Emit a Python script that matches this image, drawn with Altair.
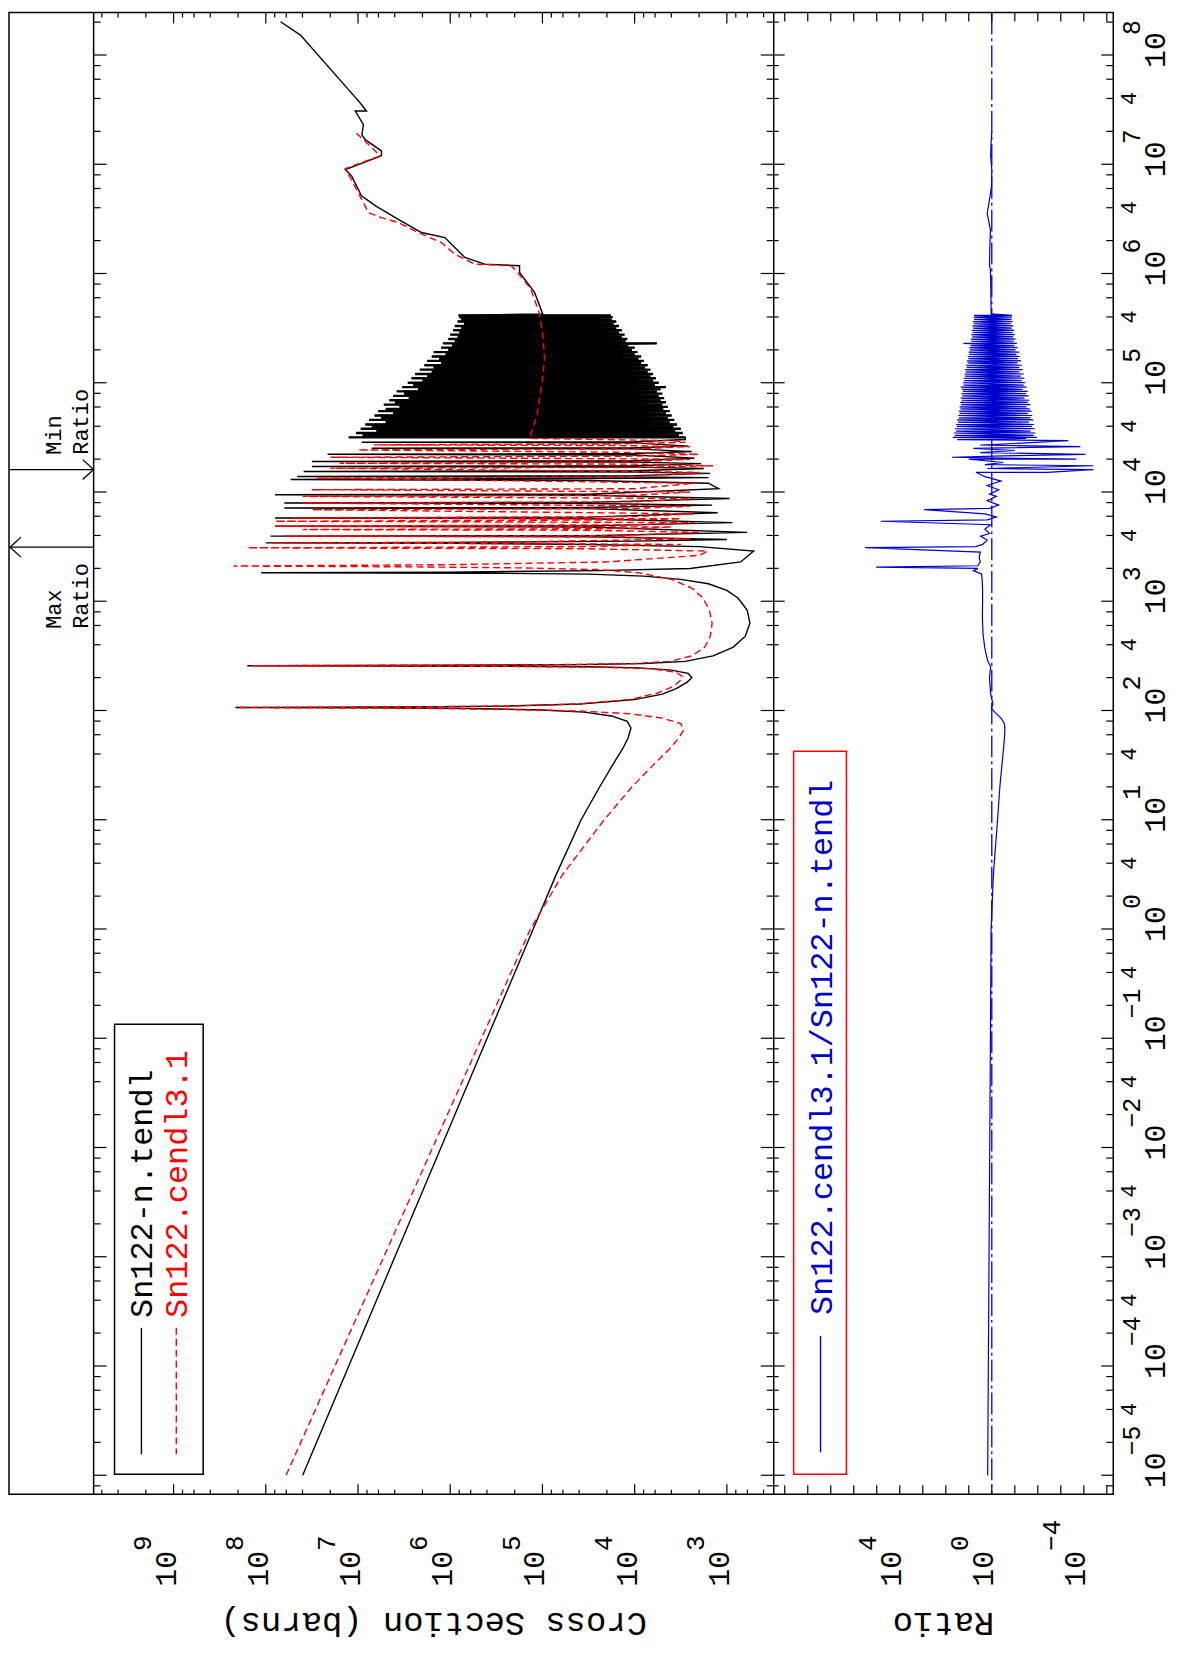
import altair as alt
import pandas as pd

# ---------------- data (log10 energy [eV], log10 value) ----------------
# Sn122-n.tendl cross section, below the dense resonance forest
TENDL_LOW = [
    (-5.00, 7.60), (-4.00, 7.10), (-3.00, 6.60), (-2.00, 6.10), (-1.00, 5.60), (0.00, 5.10),
    (0.50, 4.85), (1.00, 4.58), (1.30, 4.38), (1.50, 4.24), (1.65, 4.13), (1.75, 4.07),
    (1.84, 4.04), (1.90, 4.08), (1.95, 4.25), (1.985, 4.55), (2.005, 5.00), (2.018, 5.80),
    (2.024, 6.80), (2.027, 8.33), (2.032, 6.50), (2.040, 5.40), (2.06, 4.60), (2.10, 4.00),
    (2.15, 3.70), (2.20, 3.55), (2.26, 3.43), (2.30, 3.38), (2.34, 3.42), (2.37, 3.60),
    (2.39, 3.95), (2.400, 4.50), (2.405, 5.50), (2.410, 8.20), (2.415, 6.00), (2.420, 4.60),
    (2.430, 3.90), (2.45, 3.45), (2.50, 3.15), (2.58, 2.93), (2.68, 2.80), (2.80, 2.75),
    (2.92, 2.78), (3.03, 2.88), (3.10, 3.00), (3.16, 3.20), (3.20, 3.50), (3.23, 3.90),
    (3.248, 4.50), (3.256, 5.50), (3.261, 8.05), (3.267, 6.00), (3.28, 4.40), (3.30, 3.40),
    (3.36, 2.85), (3.459, 2.71), (3.50, 3.30), (3.52, 4.50), (3.530, 6.00), (3.534, 8.00),
    (3.538, 6.00), (3.55, 4.00), (3.565, 3.00), (3.59, 4.50), (3.596, 7.95), (3.600, 4.50),
    (3.63, 2.78), (3.68, 4.50), (3.687, 7.90), (3.690, 4.50), (3.72, 2.94), (3.755, 4.50),
    (3.762, 7.90), (3.770, 4.50), (3.81, 3.10), (3.848, 4.50), (3.853, 7.80), (3.858, 4.50),
    (3.88, 3.16), (3.895, 4.50), (3.899, 7.80), (3.905, 4.50), (3.94, 2.97), (3.970, 4.50),
    (3.975, 7.90), (3.980, 4.50), (4.03, 3.09), (4.08, 3.20), (4.105, 4.50), (4.115, 7.73),
    (4.125, 4.00), (4.132, 3.20), (4.138, 4.00), (4.142, 7.66), (4.150, 4.00), (4.17, 3.18),
    (4.183, 4.00), (4.188, 7.59), (4.195, 4.00), (4.215, 3.25), (4.228, 4.00), (4.233, 7.50),
    (4.240, 4.00), (4.26, 3.28), (4.273, 4.00), (4.279, 7.50), (4.286, 4.00), (4.31, 3.35),
    (4.338, 4.00), (4.345, 7.33), (4.352, 4.00), (4.37, 3.38), (4.395, 4.00), (4.400, 6.85),
    (4.405, 4.00), (4.42, 3.42), (4.450, 4.00), (4.455, 6.96), (4.460, 4.00), (4.48, 3.45),
]
# dense forest (tendl): energies, peak and valley values
FOREST_LOGE = [4.500, 4.519, 4.540, 4.558, 4.579, 4.600, 4.618, 4.639, 4.660, 4.679, 4.700, 4.719,
               4.740, 4.760, 4.779, 4.800, 4.821, 4.840, 4.859, 4.880, 4.900, 4.921, 4.940, 4.960,
               4.979, 5.000, 5.020, 5.041, 5.060, 5.080, 5.099, 5.120, 5.140, 5.160, 5.181, 5.200,
               5.220, 5.240, 5.259, 5.280, 5.300, 5.321, 5.340, 5.360, 5.380, 5.400, 5.420, 5.440,
               5.460, 5.480, 5.500, 5.520, 5.540, 5.560, 5.580, 5.600, 5.616]
FOREST_PEAK = [7.10, 6.95, 7.02, 6.80, 6.97, 6.85, 6.92, 6.70, 6.88, 6.75, 6.82, 6.62,
               6.78, 6.70, 6.55, 6.72, 6.60, 6.66, 6.45, 6.62, 6.50, 6.58, 6.35, 6.52,
               6.40, 6.46, 6.30, 6.42, 6.25, 6.38, 6.20, 6.33, 6.18, 6.28, 6.10, 6.25,
               6.12, 6.20, 6.05, 6.18, 6.02, 6.10, 5.98, 6.08, 5.95, 6.02, 5.92, 6.00,
               5.90, 5.97, 5.88, 5.95, 5.85, 5.92, 5.88, 5.90, 5.91]
FOREST_VALLEY = [3.45, 3.52, 3.48, 3.56, 3.50, 3.58, 3.54, 3.62, 3.57, 3.64, 3.60, 3.66,
                 3.62, 3.69, 3.64, 3.70, 3.66, 3.72, 3.68, 3.74, 3.70, 3.76, 3.72, 3.66,
                 3.78, 3.74, 3.80, 3.77, 3.83, 3.80, 3.86, 3.83, 3.89, 3.86, 3.93, 3.90,
                 3.96, 3.93, 4.00, 3.97, 4.03, 4.00, 4.07, 3.76, 4.10, 4.08, 4.14, 4.11,
                 4.17, 4.14, 4.20, 4.17, 4.23, 4.20, 4.25, 4.24, 4.26]
TENDL_HIGH = [
    (5.630, 4.997), (5.828, 5.086), (6.010, 5.248), (6.071, 5.248), (6.086, 5.626), (6.147, 5.842),
    (6.329, 6.058), (6.375, 6.311), (6.496, 6.563), (6.621, 6.814), (6.712, 6.962), (6.894, 7.070),
    (6.952, 7.138), (7.077, 6.746), (7.122, 6.746), (7.225, 6.922), (7.271, 6.958), (7.362, 6.941),
    (7.487, 7.030), (7.487, 6.908), (7.560, 6.976), (7.651, 7.070), (8.182, 7.624), (8.304, 7.840),
]
# Sn122.cendl3.1 cross section
CENDL = [
    (-5.00, 7.78), (-4.00, 7.25), (-3.00, 6.72), (-2.00, 6.19), (-1.00, 5.66), (0.00, 5.13),
    (0.50, 4.78), (1.00, 4.33), (1.30, 4.03), (1.50, 3.80), (1.65, 3.62), (1.75, 3.52),
    (1.82, 3.47), (1.88, 3.50), (1.93, 3.70), (1.97, 4.05), (1.995, 4.60), (2.010, 5.40),
    (2.020, 6.30), (2.027, 8.30), (2.033, 6.40), (2.042, 5.30), (2.06, 4.60), (2.10, 4.05),
    (2.16, 3.75), (2.22, 3.58), (2.28, 3.50), (2.31, 3.48), (2.35, 3.55), (2.38, 3.80),
    (2.395, 4.30), (2.403, 5.20), (2.407, 6.30), (2.410, 8.15), (2.415, 6.20), (2.420, 4.80),
    (2.430, 4.00), (2.45, 3.62), (2.50, 3.38), (2.58, 3.24), (2.68, 3.18), (2.80, 3.16),
    (2.92, 3.19), (3.03, 3.26), (3.12, 3.38), (3.20, 3.60), (3.26, 3.95), (3.29, 4.40),
    (3.305, 5.20), (3.315, 6.40), (3.322, 8.35), (3.335, 6.00), (3.36, 4.30), (3.42, 3.30),
    (3.459, 3.21), (3.480, 4.50), (3.489, 8.20), (3.500, 4.50), (3.52, 3.50), (3.530, 6.00),
    (3.534, 7.95), (3.540, 5.50), (3.57, 3.40), (3.590, 4.20), (3.596, 7.80), (3.600, 4.20),
    (3.63, 3.30), (3.650, 4.50), (3.656, 7.60), (3.665, 4.00), (3.680, 3.60), (3.687, 7.90),
    (3.700, 4.00), (3.72, 3.35), (3.732, 7.90), (3.745, 4.00), (3.755, 3.50), (3.762, 7.70),
    (3.775, 4.00), (3.80, 3.35), (3.838, 7.50), (3.850, 4.00), (3.87, 3.40), (3.899, 7.60),
    (3.910, 4.00), (3.94, 3.35), (3.960, 7.60), (3.970, 4.00), (4.00, 3.40), (4.021, 7.50),
    (4.030, 4.00), (4.08, 3.35), (4.127, 7.45), (4.140, 4.00), (4.18, 3.30), (4.218, 7.30),
    (4.225, 4.00), (4.240, 3.15), (4.255, 4.00), (4.263, 7.20), (4.275, 4.00), (4.300, 3.40),
    (4.318, 7.30), (4.328, 4.00), (4.345, 3.30), (4.362, 4.00), (4.385, 7.00), (4.395, 4.00),
    (4.415, 3.40), (4.425, 4.20), (4.431, 6.83), (4.440, 4.20), (4.455, 3.45), (4.470, 3.60),
    (4.491, 5.14), (4.70, 5.06), (4.917, 5.018), (5.10, 4.99), (5.220, 4.978), (5.40, 4.99),
    (5.630, 5.032), (5.858, 5.126), (6.029, 5.288), (6.071, 5.342), (6.086, 5.734), (6.177, 5.950),
    (6.284, 6.098), (6.375, 6.347), (6.466, 6.563), (6.512, 6.746), (6.557, 6.887), (6.770, 7.016),
    (6.961, 7.138), (7.077, 6.760), (7.225, 6.941), (7.293, 7.030),
]
# ratio cendl/tendl
RATIO_LOW = [
    (-5.0, 0.18), (-4.0, 0.15), (-3.0, 0.12), (-2.0, 0.09), (-1.0, 0.06), (0.0, 0.03), (0.5, -0.07),
    (1.0, -0.25), (1.3, -0.35), (1.5, -0.44), (1.65, -0.51), (1.75, -0.55), (1.82, -0.57),
    (1.88, -0.55), (1.93, -0.40), (1.98, -0.15), (2.02, 0.02), (2.06, -0.05), (2.15, 0.05),
    (2.30, 0.10), (2.40, 0.05), (2.45, 0.17), (2.50, 0.23), (2.58, 0.31), (2.70, 0.38), (2.85, 0.41),
    (3.00, 0.40), (3.10, 0.40), (3.20, 0.42), (3.25, 0.45), (3.28, 0.80), (3.30, 0.60), (3.312, 5.03),
    (3.325, 0.60), (3.36, 0.50), (3.40, 0.55), (3.45, 0.50), (3.490, 5.51), (3.50, 0.70), (3.52, 0.40),
    (3.56, 0.20), (3.596, 0.49), (3.62, 0.10), (3.66, 0.30), (3.70, 0.05), (3.732, 4.82), (3.745, 0.20),
    (3.77, -0.20), (3.80, 0.30), (3.838, 2.94), (3.85, 0.10), (3.88, -0.30), (3.92, 0.20), (3.96, -0.20),
    (3.98, 0.10), (4.02, -0.30), (4.06, 0.20), (4.10, -0.40), (4.14, 0.30), (4.180, 0.69), (4.180, -2.40),
    (4.205, -4.42), (4.215, 0.20), (4.240, -4.42), (4.250, 0.30), (4.270, -0.50), (4.300, 1.00),
    (4.300, -3.68), (4.318, 1.73), (4.330, -0.50), (4.345, -4.07), (4.360, 0.50), (4.380, -1.00),
    (4.400, 0.80), (4.415, -3.85), (4.430, 0.50), (4.450, -1.50), (4.470, -3.33), (4.480, 1.50),
    (4.490, -1.50),
]
RATIO_FOREST_HI = [1.69, 1.61, 1.64, 1.55, 1.60, 1.52, 1.55, 1.47, 1.51, 1.43, 1.46, 1.40,
                   1.43, 1.36, 1.40, 1.34, 1.37, 1.31, 1.35, 1.28, 1.32, 1.26, 1.29, 1.35,
                   1.23, 1.26, 1.20, 1.23, 1.16, 1.19, 1.13, 1.16, 1.09, 1.12, 1.05, 1.08,
                   1.02, 1.05, 0.98, 1.01, 0.95, 0.98, 0.92, 1.23, 0.89, 0.91, 0.85, 0.89,
                   0.83, 0.86, 0.81, 0.84, 0.79, 0.82, 0.77, 0.79, 0.77]
RATIO_FOREST_LO = [-1.96, -1.82, -1.90, -1.69, -1.87, -1.75, -1.83, -1.61, -1.80, -1.68, -1.76, -1.56,
                   -1.73, -1.65, -1.51, -1.68, -1.57, -1.63, -1.42, -1.60, -1.48, -1.56, -1.34, -1.51,
                   -1.39, -1.46, -1.30, -1.42, -1.26, -1.39, -1.21, -1.34, -1.20, -1.30, -1.12, -1.27,
                   -1.14, -1.22, -1.07, -1.20, -1.04, -1.12, -0.99, -1.09, -0.96, -1.03, -0.93, -1.00,
                   -0.90, -0.97, -0.87, -0.94, -0.83, -0.90, -0.86, -0.87, -0.88]
RATIO_HIGH = [(5.63, 0.03), (5.85, 0.04), (6.03, 0.06), (6.08, 0.10), (6.20, 0.09), (6.40, 0.06),
              (6.55, 0.20), (6.65, 0.12), (6.80, 0.01), (6.95, 0.00), (7.08, 0.05), (7.20, 0.03),
              (7.293, 0.00)]

# energies (log10 eV) of the max / min ratio markers
ARROW_LABELS = ["Max\nRatio", "Min\nRatio"]
ARROW_LOGE = [3.495, 4.205]

# tick label texts
E_EXPONENTS = ["\u22125", "\u22124", "\u22123", "\u22122", "\u22121", "0", "1", "2", "3", "4", "5", "6", "7", "8"]
S_EXPONENTS = ["3", "4", "5", "6", "7", "8", "9"]
R_EXPONENTS = ["4", "0", "\u22124"]
R_LABEL_VALUES = [1e4, 1.0, 1e-4]

LEGEND_MAIN = ["Sn122-n.tendl", "Sn122.cendl3.1"]
LEGEND_RATIO = "Sn122.cendl3.1/Sn122-n.tendl"

# ---------------- build tables ----------------
def frame(points, col):
    return pd.DataFrame({"E": [10 ** e for e, _ in points],
                         col: [10 ** v for _, v in points],
                         "i": list(range(len(points)))})

forest_pts = []
for e, v, p in zip(FOREST_LOGE, FOREST_VALLEY, FOREST_PEAK):
    forest_pts += [(e, v), (e, p)]
black_pts = list(TENDL_LOW) + forest_pts + list(TENDL_HIGH)
black_df = frame(black_pts, "S")
forest_df = frame(forest_pts, "S")
red_df = frame(CENDL, "S")

ratio_pts = list(RATIO_LOW)
for e, hi, lo in zip(FOREST_LOGE, RATIO_FOREST_HI, RATIO_FOREST_LO):
    ratio_pts += [(e, hi), (e, lo)]
ratio_pts += RATIO_HIGH
ratio_df = frame(ratio_pts, "R")

# ---------------- layout ----------------
FONT = "Liberation Mono"
BLUE = "#0000cd"
RED = "#ff0000"
W, H = 1109, 1488
XL, XD = 85, 768           # main panel left edge, divider
E_LO, E_HI = 10 ** -5.173, 10 ** 8.389
S_LO, S_HI = 10 ** 2.492, 10 ** 9.867
R_LO, R_HI = 10 ** -5.28, 10 ** 9.48

YS = alt.Scale(type="log", domain=[E_LO, E_HI], nice=False)
XS = alt.Scale(type="log", domain=[S_LO, S_HI], range=[XD, XL], nice=False)
XR = alt.Scale(type="log", domain=[R_LO, R_HI], range=[W, XD], nice=False)


def ye(f="E"):
    return alt.Y(f"{f}:Q", scale=YS, axis=None)


def xs(f="S"):
    return alt.X(f"{f}:Q", scale=XS, axis=None)


def xr(f="R"):
    return alt.X(f"{f}:Q", scale=XR, axis=None)


one = pd.DataFrame({"k": [0]})
layers = []

# curves
layers.append(alt.Chart(black_df).mark_line(color="black", strokeWidth=1.4)
              .encode(x=xs(), y=ye(), order="i:Q"))
layers.append(alt.Chart(forest_df).mark_line(color="black", strokeWidth=2.4)
              .encode(x=xs(), y=ye(), order="i:Q"))
layers.append(alt.Chart(red_df).mark_line(color=RED, strokeWidth=1.4, strokeDash=[7, 4])
              .encode(x=xs(), y=ye(), order="i:Q"))
layers.append(alt.Chart(pd.DataFrame({"R": [1.0]}))
              .mark_rule(color=BLUE, strokeWidth=1.3, strokeDash=[22, 4, 3, 4])
              .encode(x=xr(), y=alt.value(0), y2=alt.value(H)))
layers.append(alt.Chart(ratio_df).mark_line(color=BLUE, strokeWidth=1.2)
              .encode(x=xr(), y=ye(), order="i:Q"))

# frames
layers.append(alt.Chart(one).mark_rect(fillOpacity=0, stroke="black", strokeWidth=1.5)
              .encode(x=alt.value(0), x2=alt.value(W), y=alt.value(0), y2=alt.value(H)))
for xv in (XL, XD):
    layers.append(alt.Chart(one).mark_rule(color="black", strokeWidth=1.5)
                  .encode(x=alt.value(xv), y=alt.value(0), y2=alt.value(H)))

# ticks
def decade_minors(lo, hi, k0, k1):
    return [m * 10.0 ** k for k in range(k0, k1) for m in (2, 4, 6, 8) if lo <= m * 10.0 ** k <= hi]

E_MAJOR = [10.0 ** k for k in range(-5, 9)]
E_MINOR = decade_minors(E_LO, E_HI, -6, 9)
S_MAJOR = [10.0 ** k for k in range(3, 10)]
S_MINOR = decade_minors(S_LO, S_HI, 2, 10)
R_MAJOR = [10.0 ** k for k in range(-5, 10)]

def eticks(vals, x0, x1):
    return (alt.Chart(pd.DataFrame({"E": vals})).mark_rule(color="black", strokeWidth=1.2)
            .encode(y=ye(), x=alt.value(x0), x2=alt.value(x1)))

for (a, b, c, d) in [(XL, XL + 13, XL, XL + 7), (XD - 13, XD, XD - 7, XD),
                     (XD, XD + 11, XD, XD + 5), (W - 12, W, W - 7, W)]:
    layers.append(eticks(E_MAJOR, a, b))
    layers.append(eticks(E_MINOR, c, d))

def sticks(vals, y0, y1, enc):
    return (alt.Chart(pd.DataFrame({"v": vals})).mark_rule(color="black", strokeWidth=1.2)
            .encode(x=enc("v"), y=alt.value(y0), y2=alt.value(y1)))

layers += [sticks(S_MAJOR, 0, 11, xs), sticks(S_MINOR, 0, 5, xs),
           sticks(S_MAJOR, H - 10, H, xs), sticks(S_MINOR, H - 4.5, H, xs),
           sticks(R_MAJOR, 0, 9, xr), sticks(R_MAJOR, H - 9, H, xr)]

# tick labels
txt = dict(font=FONT, angle=270, align="left", baseline="alphabetic", color="black")
EX = 1161
e_lab = pd.DataFrame({"E": E_MAJOR, "b": ["10"] * len(E_MAJOR), "x": E_EXPONENTS})
layers.append(alt.Chart(e_lab).mark_text(fontSize=30, dx=-13, **txt)
              .encode(y=ye(), x=alt.value(EX), text="b:N"))
layers.append(alt.Chart(e_lab).mark_text(fontSize=25, dx=20, dy=-25, **txt)
              .encode(y=ye(), x=alt.value(EX), text="x:N"))
four = pd.DataFrame({"E": [4 * 10.0 ** k for k in range(-5, 8)], "t": ["4"] * 13})
layers.append(alt.Chart(four).mark_text(font=FONT, fontSize=22, angle=270, align="center",
                                        baseline="alphabetic", color="black")
              .encode(y=ye(), x=alt.value(EX - 29), text="t:N"))

s_lab = pd.DataFrame({"S": S_MAJOR, "b": ["10"] * len(S_MAJOR), "x": S_EXPONENTS})
layers.append(alt.Chart(s_lab).mark_text(fontSize=30, dy=2, **txt)
              .encode(x=xs(), y=alt.value(1581), text="b:N"))
layers.append(alt.Chart(s_lab).mark_text(fontSize=26, dx=36, dy=-23, **txt)
              .encode(x=xs(), y=alt.value(1581), text="x:N"))
r_lab = pd.DataFrame({"R": R_LABEL_VALUES, "b": ["10"] * 3, "x": R_EXPONENTS})
layers.append(alt.Chart(r_lab).mark_text(fontSize=30, dy=1, **txt)
              .encode(x=xr(), y=alt.value(1581), text="b:N"))
layers.append(alt.Chart(r_lab).mark_text(fontSize=26, dx=36, dy=-24, **txt)
              .encode(x=xr(), y=alt.value(1581), text="x:N"))

# axis titles (upside down)
for label, xc in [("Cross Section (barns)", (XL + XD) / 2), ("Ratio", (XD + W) / 2)]:
    layers.append(alt.Chart(one).mark_text(text=label, font=FONT, fontSize=34, angle=180,
                                           align="center", baseline="alphabetic", color="black")
                  .encode(x=alt.value(xc), y=alt.value(1607)))

# legends
layers.append(alt.Chart(one).mark_rect(fillOpacity=0, stroke="black", strokeWidth=1.5)
              .encode(x=alt.value(106), x2=alt.value(195), y=alt.value(1016), y2=alt.value(1468)))
layers.append(alt.Chart(one).mark_rule(color="black", strokeWidth=1.4)
              .encode(x=alt.value(133), y=alt.value(1321), y2=alt.value(1448)))
layers.append(alt.Chart(one).mark_rule(color=RED, strokeWidth=1.4, strokeDash=[7, 4])
              .encode(x=alt.value(168), y=alt.value(1321), y2=alt.value(1448)))
layers.append(alt.Chart(one).mark_text(text=LEGEND_MAIN[0], fontSize=32, **txt)
              .encode(x=alt.value(144), y=alt.value(1311)))
layers.append(alt.Chart(one).mark_text(text=LEGEND_MAIN[1], fontSize=32,
                                       **{**txt, "color": RED})
              .encode(x=alt.value(179), y=alt.value(1311)))

layers.append(alt.Chart(one).mark_rect(fillOpacity=0, stroke=RED, strokeWidth=1.5)
              .encode(x=alt.value(788), x2=alt.value(841), y=alt.value(742), y2=alt.value(1468)))
layers.append(alt.Chart(one).mark_rule(color=BLUE, strokeWidth=1.4)
              .encode(x=alt.value(815), y=alt.value(1329), y2=alt.value(1446)))
layers.append(alt.Chart(one).mark_text(text=LEGEND_RATIO, fontSize=32, **{**txt, "color": BLUE})
              .encode(x=alt.value(827), y=alt.value(1308)))

# max / min ratio arrows
arrows = pd.DataFrame({"E": [10 ** e for e in ARROW_LOGE], "t": ARROW_LABELS})
layers.append(alt.Chart(arrows).mark_rule(color="black", strokeWidth=1.3)
              .encode(y=ye(), x=alt.value(0), x2=alt.value(XL)))
layers.append(alt.Chart(arrows.iloc[[1]]).mark_point(shape="M -1.1 -1 L 0 0 L -1.1 1", filled=False,
                                                     size=400, color="black", strokeWidth=1.3, opacity=1)
              .encode(y=ye(), x=alt.value(XL)))
layers.append(alt.Chart(arrows.iloc[[0]]).mark_point(shape="M 1.1 -1 L 0 0 L 1.1 1", filled=False,
                                                     size=400, color="black", strokeWidth=1.3, opacity=1)
              .encode(y=ye(), x=alt.value(1)))
layers.append(alt.Chart(arrows.iloc[[1]]).mark_text(fontSize=22, dx=15, lineBreak="\n", lineHeight=26.5, **txt)
              .encode(y=ye(), x=alt.value(52.7), text="t:N"))
layers.append(alt.Chart(arrows.iloc[[0]]).mark_text(fontSize=22, dx=-82, lineBreak="\n", lineHeight=26.5, **txt)
              .encode(y=ye(), x=alt.value(52.7), text="t:N"))

chart = (alt.layer(*layers)
         .resolve_scale(x="independent")
         .properties(width=W, height=H,
                     padding={"left": 1, "top": 1, "right": 60, "bottom": 150},
                     autosize=alt.AutoSizeParams(type="none"),
                     background="white")
         .configure_view(strokeWidth=0))

chart.save("out.html", embed_options={"renderer": "svg", "actions": False})
